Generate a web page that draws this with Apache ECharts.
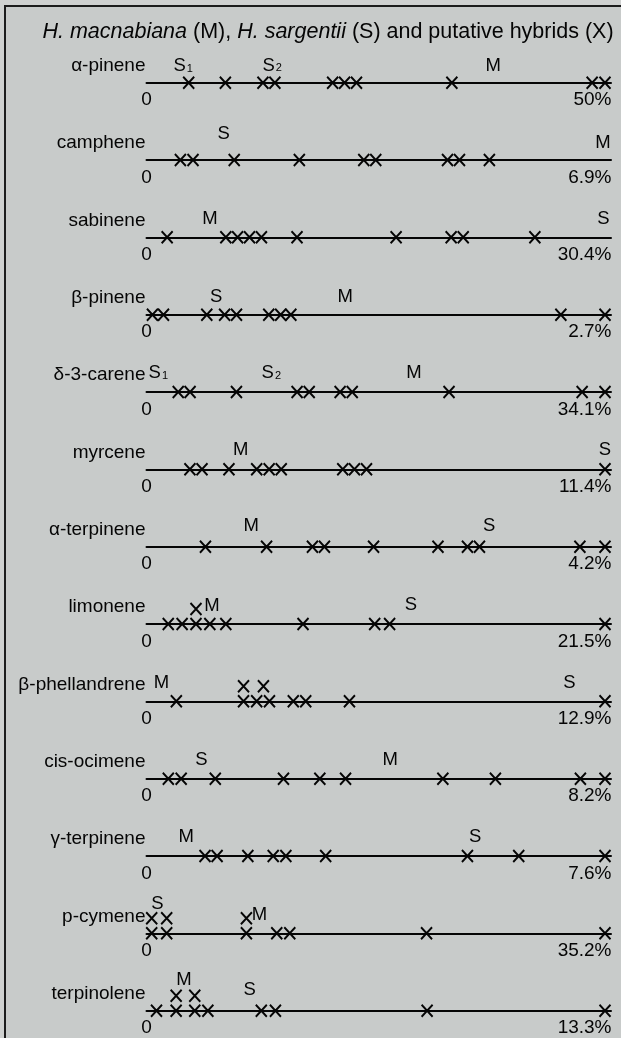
<!DOCTYPE html>
<html>
<head>
<meta charset="utf-8">
<script src="https://cdn.jsdelivr.net/npm/echarts@6/dist/echarts.min.js"></script>
<style>
  html, body { margin: 0; padding: 0; background: #cfd1d0; }
  #chart { width: 621px; height: 1038px; }
</style>
</head>
<body>
<div id="chart"></div>
<script>
// Monoterpene composition: each row is one compound, scaled from 0 to the highest value found.
const rowNames = ['α-pinene', 'camphene', 'sabinene', 'β-pinene', 'δ-3-carene', 'myrcene',
  'α-terpinene', 'limonene', 'β-phellandrene', 'cis-ocimene', 'γ-terpinene', 'p-cymene', 'terpinolene'];

// Highest percentage per compound (right end of each scale)
const rowMax = [50, 6.9, 30.4, 2.7, 34.1, 11.4, 4.2, 21.5, 12.9, 8.2, 7.6, 35.2, 13.3];

// Putative hybrids (X), percentages
const hybridValues = [
  [4.6, 8.6, 12.7, 14.0, 20.3, 21.6, 22.9, 33.3, 48.6, 50],
  [0.51, 0.70, 1.32, 2.30, 3.27, 3.45, 4.53, 4.71, 5.16],
  [1.37, 5.26, 6.04, 6.83, 7.62, 9.98, 16.55, 20.2, 21.0, 25.75],
  [0.035, 0.10, 0.355, 0.46, 0.53, 0.72, 0.79, 0.85, 2.44, 2.7],
  [2.36, 3.24, 6.69, 11.2, 12.1, 14.4, 15.3, 22.5, 32.4, 34.1],
  [1.08, 1.38, 2.05, 2.74, 3.05, 3.35, 4.88, 5.17, 5.47, 11.4],
  [0.54, 1.10, 1.52, 1.63, 2.08, 2.67, 2.94, 3.05, 3.97, 4.2],
  [1.02, 1.67, 2.32, 2.97, 3.72, 7.34, 10.7, 11.4, 21.5],
  [0.84, 2.73, 3.10, 3.46, 4.13, 4.48, 5.71, 12.9],
  [0.39, 0.62, 1.23, 2.45, 3.10, 3.56, 5.30, 6.24, 7.76, 8.2],
  [0.97, 1.17, 1.68, 2.10, 2.31, 2.97, 5.32, 6.17, 7.6],
  [0.40, 1.55, 7.67, 10.0, 11.0, 21.5, 35.2],
  [0.29, 0.86, 1.40, 1.78, 3.33, 3.74, 8.14, 13.3]
];

// Hybrids that coincide with another one and are drawn one level up
const stackedValues = [[], [], [], [], [], [], [], [2.32], [2.73, 3.29], [], [], [0.40, 1.55, 7.67], [0.86, 1.40]];

// Parent species: [label, percentage, height level]
const parentMarks = [
  [['S1', 4.0, 1.1], ['S2', 13.7, 1.15], ['M', 37.8, 1.15]],
  [['S', 1.16, 1.75], ['M', 6.87, 1.15]],
  [['M', 4.2, 1.2], ['S', 30.3, 1.2]],
  [['S', 0.41, 1.2], ['M', 1.17, 1.2]],
  [['S1', 0.88, 1.3], ['S2', 9.28, 1.3], ['M', 19.9, 1.3]],
  [['M', 2.34, 1.3], ['S', 11.4, 1.3]],
  [['M', 0.96, 1.4], ['S', 3.14, 1.4]],
  [['M', 3.07, 1.2], ['S', 12.4, 1.3]],
  [['M', 0.42, 1.2], ['S', 11.9, 1.2]],
  [['S', 0.98, 1.25], ['M', 4.36, 1.25]],
  [['M', 0.66, 1.25], ['S', 5.45, 1.3]],
  [['S', 0.83, 1.95], ['M', 8.67, 1.2]],
  [['M', 1.09, 2.05], ['S', 2.99, 1.4]]
];

const FONT = '"Liberation Sans", Arial, Helvetica, sans-serif';
const INK = '#050505';
const FIRST_LINE_Y = 82.7;
const ROW_STEP = 77.33;
const AXIS_LEFT = 146.5;
const AXIS_WIDTH = 464.5;      // drawn line, slightly longer than the 0..max span
const SPAN_WIDTH = 458.5;      // 0..max span
const OVERRUN = AXIS_WIDTH / SPAN_WIDTH;
const BAND = 36;               // px above the line used for stacked marks and letters
const LEVELS = 2.4;

const chart = echarts.init(document.getElementById('chart'), null, { renderer: 'canvas' });

const grids = [], xAxes = [], yAxes = [], series = [];
const graphics = [
  {
    type: 'rect', z: -10,
    shape: { x: 5, y: 6, width: 660, height: 1080 },
    style: { fill: '#c8cbca', stroke: '#1c1c1c', lineWidth: 2 }
  },
  {
    type: 'text',
    style: {
      text: '{i|H. macnabiana} (M), {i|H. sargentii} (S) and putative hybrids (X)',
      x: 328, y: 32, align: 'center', verticalAlign: 'middle',
      fontSize: 21.5, fontFamily: FONT, fill: INK,
      rich: { i: { fontStyle: 'italic', fontSize: 21.5, fontFamily: FONT, fill: INK } }
    }
  }
];

const xSymbol = 'path://M0,0L11,12M11,0L0,12';

const plainLabel = {
  color: INK, opacity: 1, textBorderWidth: 0, textShadowBlur: 0
};

rowNames.forEach((name, i) => {
  const lineY = FIRST_LINE_Y + i * ROW_STEP;
  grids.push({ left: AXIS_LEFT, width: AXIS_WIDTH, top: lineY - BAND, height: BAND, containLabel: false });
  xAxes.push({
    gridIndex: i, type: 'value', min: 0, max: rowMax[i] * OVERRUN,
    axisLine: { show: true, onZero: false, lineStyle: { color: INK, width: 2 } },
    axisTick: { show: false }, axisLabel: { show: false }, splitLine: { show: false }
  });
  yAxes.push({ gridIndex: i, type: 'value', min: 0, max: LEVELS, show: false });

  graphics.push({
    type: 'text',
    style: {
      text: name, x: 145.5, y: lineY - 17, align: 'right', verticalAlign: 'middle',
      fontSize: 19, fontFamily: FONT, fill: INK
    }
  });

  // hybrids
  series.push({
    type: 'scatter', xAxisIndex: i, yAxisIndex: i, clip: false, silent: true,
    symbol: xSymbol, symbolSize: [11, 12], symbolKeepAspect: false,
    itemStyle: { color: 'rgba(0,0,0,0)', borderColor: INK, borderWidth: 2, opacity: 1 },
    data: hybridValues[i].map(v => [v, 0]).concat(stackedValues[i].map(v => [v, 1])),
    z: 3
  });

  // parent species letters
  series.push({
    type: 'scatter', xAxisIndex: i, yAxisIndex: i, clip: false, silent: true,
    symbol: 'circle', symbolSize: 0, itemStyle: { color: INK },
    data: parentMarks[i].map(p => ({ name: p[0], value: [p[1], p[2]] })),
    label: Object.assign({
      show: true, position: 'inside',
      formatter: p => p.name.length > 1 ? '{b|' + p.name[0] + '}{s|' + p.name.slice(1) + '}' : '{b|' + p.name + '}',
      rich: {
        b: { fontSize: 18.5, fontFamily: FONT, color: INK, verticalAlign: 'bottom' },
        s: { fontSize: 11, fontFamily: FONT, color: INK, verticalAlign: 'bottom', padding: [0, 0, 1, 1] }
      }
    }, plainLabel),
    z: 4
  });

  // scale ends: 0 and maximum percentage
  series.push({
    type: 'scatter', xAxisIndex: i, yAxisIndex: i, clip: false, silent: true,
    symbol: 'circle', symbolSize: 0, itemStyle: { color: INK },
    label: Object.assign({
      show: true, position: 'bottom', distance: 8,
      fontSize: 19, fontFamily: FONT
    }, plainLabel),
    data: [
      { value: [0, 0], label: { formatter: '0', align: 'center' } },
      { value: [rowMax[i], 0], label: { formatter: rowMax[i] + '%', align: 'right', offset: [6.5, 0] } }
    ],
    z: 4
  });
});

chart.setOption({
  backgroundColor: '#cfd1d0',
  animation: false,
  grid: grids,
  xAxis: xAxes,
  yAxis: yAxes,
  series: series,
  graphic: graphics
});
</script>
</body>
</html>
